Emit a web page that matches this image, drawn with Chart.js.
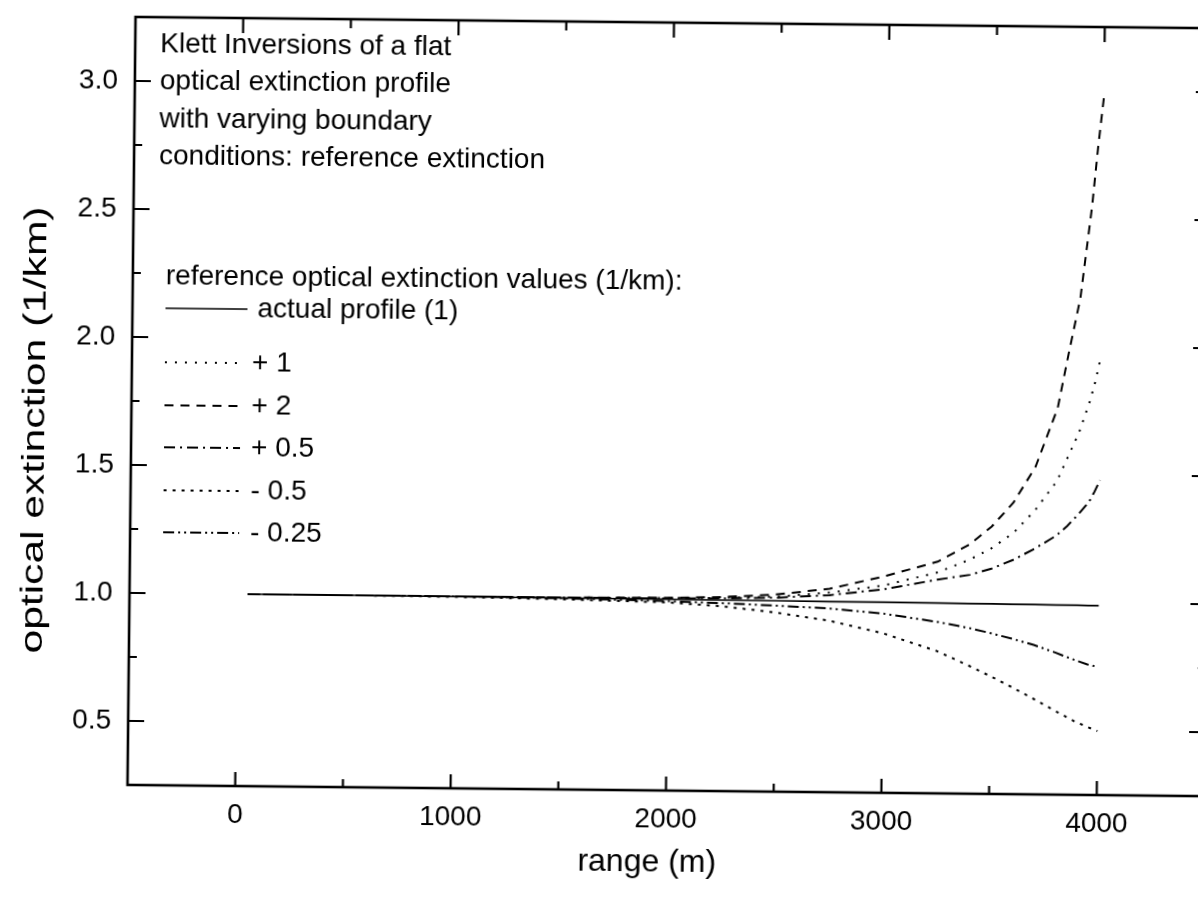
<!DOCTYPE html>
<html>
<head>
<meta charset="utf-8">
<script src="https://cdn.jsdelivr.net/npm/chart.js@4"></script>
<style>
  html, body { margin: 0; padding: 0; background: #fff; overflow: hidden; }
  #wrap { position: absolute; left: 0; top: 0; width: 1230px; height: 907px; transform: rotate(0.6deg); transform-origin: 615px 453px; }
</style>
</head>
<body>
<div id="wrap"><canvas id="grafico" width="1230" height="907"></canvas></div>
<script>
// range (m) where each inversion is sampled
const rango = [50, 500, 1000, 1500, 2000, 2250, 2500, 2750, 3000, 3250, 3400, 3500, 3600, 3700, 3800, 3850, 3900, 3950, 3975, 4000];

// optical extinction (1/km) per reference value
const perfilReal = [1.0, 1.0, 0.999, 0.998, 0.997, 0.996, 0.996, 0.995, 0.995, 0.994, 0.993, 0.993, 0.992, 0.992, 0.991, 0.991, 0.991, 0.99, 0.99, 0.99];
const masUno     = [1.0, 1.0, 1.0, 1.0, 1.002, 1.005, 1.012, 1.03, 1.06, 1.113, 1.165, 1.21, 1.27, 1.36, 1.475, 1.57, 1.665, 1.79, 1.87, 1.97];
const masDos     = [1.0, 1.0, 1.0, 1.0, 1.003, 1.008, 1.02, 1.045, 1.095, 1.155, 1.225, 1.295, 1.39, 1.53, 1.76, 1.98, 2.19, 2.55, 2.78, 2.98];
const masMedio   = [1.0, 1.0, 1.0, 1.0, 1.0, 1.003, 1.008, 1.02, 1.045, 1.085, 1.105, 1.13, 1.165, 1.21, 1.262, 1.30, 1.345, 1.395, 1.435, 1.48];
const menosMedio = [1.0, 1.0, 0.998, 0.993, 0.985, 0.972, 0.95, 0.92, 0.873, 0.806, 0.75, 0.71, 0.668, 0.624, 0.578, 0.556, 0.534, 0.517, 0.508, 0.50];
const menosCuarto = [1.0, 1.0, 1.0, 0.997, 0.99, 0.984, 0.977, 0.968, 0.95, 0.92, 0.897, 0.878, 0.857, 0.834, 0.805, 0.789, 0.774, 0.76, 0.755, 0.75];

const xTicks = [0, 1000, 2000, 3000, 4000];
const xMenores = [500, 1500, 2500, 3500];
const yTicks = [0.5, 1.0, 1.5, 2.0, 2.5, 3.0];
const yMenores = [0.75, 1.25, 1.75, 2.25, 2.75];

const nota = [
  "Klett Inversions of a flat",
  "optical extinction profile",
  "with varying boundary",
  "conditions: reference extinction"
];
const tituloLeyenda = "reference optical extinction values (1/km):";

const FUENTE = "'Liberation Sans', Arial, sans-serif";

function serie(label, valores, dash, ancho) {
  return {
    label,
    data: rango.map((r, i) => ({ x: r, y: valores[i] })),
    borderColor: "#000",
    borderWidth: ancho || 2,
    borderDash: dash,
    pointRadius: 0,
    tension: 0,
    fill: false
  };
}

// frame, inward ticks, note text and legend
const marco = {
  id: "marco",
  afterDatasetsDraw(chart) {
    const { ctx, chartArea: a, scales: { x, y } } = chart;
    ctx.save();
    ctx.strokeStyle = "#000";
    ctx.fillStyle = "#000";

    ctx.lineWidth = 2.6;
    ctx.strokeRect(a.left, a.top, a.right - a.left, a.bottom - a.top);

    ctx.lineWidth = 2.2;
    ctx.beginPath();
    const linea = (x1, y1, x2, y2) => { ctx.moveTo(x1, y1); ctx.lineTo(x2, y2); };
    xTicks.forEach(v => {
      const px = x.getPixelForValue(v);
      linea(px, a.bottom, px, a.bottom - 14);
      linea(px, a.top, px, a.top + 15);
    });
    xMenores.forEach(v => {
      const px = x.getPixelForValue(v);
      linea(px, a.bottom, px, a.bottom - 8);
      linea(px, a.top, px, a.top + 9);
    });
    yTicks.forEach(v => {
      const py = y.getPixelForValue(v);
      linea(a.left, py, a.left + 16, py);
      linea(a.right, py, a.right - 16, py);
    });
    yMenores.forEach(v => {
      const py = y.getPixelForValue(v);
      linea(a.left, py, a.left + 8, py);
      linea(a.right, py, a.right - 8, py);
    });
    ctx.stroke();

    // axis titles
    ctx.font = "32px " + FUENTE;
    ctx.textAlign = "center";
    ctx.textBaseline = "middle";
    ctx.fillText("range (m)", 651, 862);
    ctx.save();
    ctx.translate(35, 436);
    ctx.rotate(-Math.PI / 2);
    ctx.scale(1.33, 1);
    ctx.fillText("optical extinction (1/km)", 0, 0);
    ctx.restore();

    // note
    ctx.font = "28px " + FUENTE;
    ctx.textAlign = "left";
    nota.forEach((t, i) => ctx.fillText(t, 156, 49 + i * 37.5));

    // legend
    ctx.fillText(tituloLeyenda, 164, 281);
    const filas = [313, 367, 410, 452, 495, 537];
    chart.data.datasets.forEach((ds, i) => {
      const yy = filas[i];
      ctx.save();
      ctx.lineWidth = ds.borderWidth;
      ctx.setLineDash(ds.borderDash || []);
      ctx.beginPath();
      ctx.moveTo(164, yy);
      ctx.lineTo(i === 0 ? 246 : 240, yy);
      ctx.stroke();
      ctx.restore();
      ctx.fillText(ds.label, i === 0 ? 256 : 251, yy);
    });
    ctx.restore();
  }
};

new Chart(document.getElementById("grafico"), {
  type: "line",
  data: {
    datasets: [
      serie("actual profile (1)", perfilReal, [], 1.7),
      serie("+ 1", masUno, [2, 8]),
      serie("+ 2", masDos, [9, 7]),
      serie("+ 0.5", masMedio, [11, 5, 2, 5]),
      serie("- 0.5", menosMedio, [3, 6]),
      serie("- 0.25", menosCuarto, [11, 4, 2, 4, 2, 4])
    ]
  },
  options: {
    responsive: false,
    animation: false,
    devicePixelRatio: 1,
    layout: { autoPadding: false, padding: { top: 22, right: 22, left: 0, bottom: 0 } },
    plugins: { legend: { display: false }, tooltip: { enabled: false } },
    scales: {
      x: {
        type: "linear",
        min: -500,
        max: 4500,
        afterBuildTicks: s => { s.ticks = xTicks.map(v => ({ value: v })); },
        afterFit: s => { s.height = 117; s.paddingLeft = 0; s.paddingRight = 0; },
        grid: { display: false, drawTicks: false },
        border: { display: false },
        ticks: { color: "#000", padding: 12, maxRotation: 0, callback: v => String(v), font: { family: FUENTE, size: 28 } }
      },
      y: {
        type: "linear",
        min: 0.25,
        max: 3.25,
        afterBuildTicks: s => { s.ticks = yTicks.map(v => ({ value: v })); },
        afterFit: s => { s.width = 131; s.paddingTop = 0; s.paddingBottom = 0; },
        grid: { display: false, drawTicks: false },
        border: { display: false },
        ticks: { color: "#000", padding: 17, callback: v => v.toFixed(1), font: { family: FUENTE, size: 28 } }
      }
    }
  },
  plugins: [marco]
});
</script>
</body>
</html>
